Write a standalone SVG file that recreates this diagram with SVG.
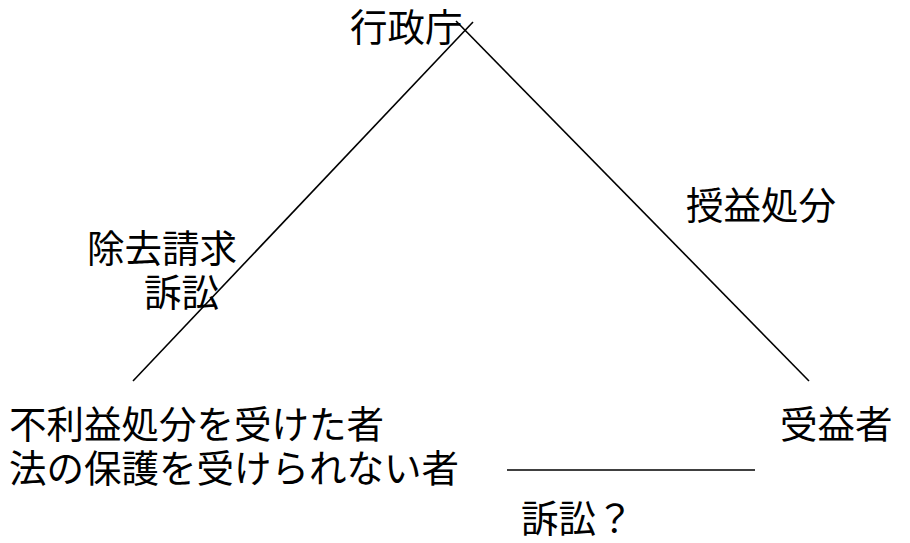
<svg xmlns="http://www.w3.org/2000/svg" width="910" height="543" viewBox="0 0 910 543">
<style>
.t{font-family:"Noto Sans CJK JP","Noto Sans CJK SC",sans-serif;font-size:37.5px;fill:#000}
.c{stroke:#000;stroke-width:1.6;fill:none}
</style>
<rect width="910" height="543" fill="#fff"/>
<g id="connectors">
<line class="c" x1="133" y1="381" x2="473" y2="22"/>
<line class="c" x1="456" y1="21" x2="809" y2="381"/>
<line class="c" x1="507" y1="470" x2="755" y2="470"/>
</g>
<g id="gyoseicho"><text class="t" x="350" y="41">行政庁</text></g>
<g id="label-jokyo"><text class="t" x="87" y="262">除去請求</text><text class="t" x="144" y="306">訴訟</text></g>
<g id="label-juekishobun"><text class="t" x="686" y="219">授益処分</text></g>
<g id="furieki"><text class="t" x="9" y="438">不利益処分を受けた者</text><text class="t" x="9" y="482">法の保護を受けられない者</text></g>
<g id="juekisha"><text class="t" x="780" y="438">受益者</text></g>
<g id="label-sosho"><text class="t" x="521" y="532">訴訟？</text></g>
</svg>
